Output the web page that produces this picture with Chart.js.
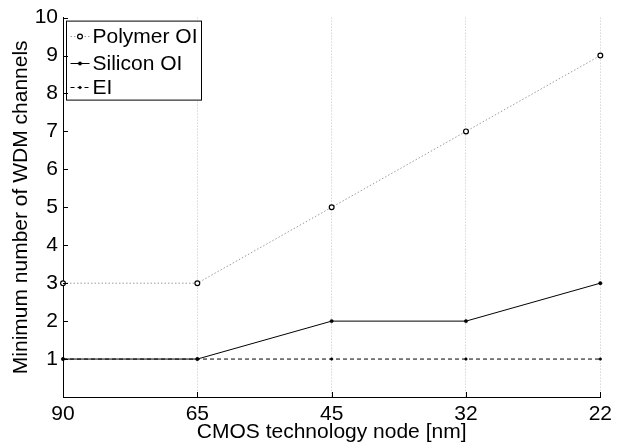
<!DOCTYPE html>
<html>
<head>
<meta charset="utf-8">
<script src="https://cdn.jsdelivr.net/npm/chart.js@4/dist/chart.umd.min.js"></script>
<style>
  html, body { margin: 0; padding: 0; background: #fff; }
  canvas { display: block; }
</style>
</head>
<body>
<canvas id="chart" width="617" height="447"></canvas>
<script>
// CMOS technology nodes (nm) on the x axis
const nodeLabels = ['90', '65', '45', '32', '22'];
// Minimum number of WDM channels per interconnect type
const polymerOI = [3, 3, 5, 7, 9];
const siliconOI = [1, 1, 2, 2, 3];
const electricalEI = [1, 1, 1, 1, 1];
// y axis range and tick spacing
const yMin = 0;
const yMax = 10;
const yStep = 1;

const FONT = "'Liberation Sans', Arial, Helvetica, sans-serif";

// Short tick marks pointing into the plot area
const insideTicks = {
  id: 'insideTicks',
  afterDraw(chart) {
    const { ctx, chartArea: a, scales: { x, y } } = chart;
    ctx.save();
    ctx.strokeStyle = '#000';
    ctx.lineWidth = 1;
    ctx.beginPath();
    y.ticks.forEach(t => {
      const py = Math.round(y.getPixelForValue(t.value)) + 0.5;
      ctx.moveTo(a.left, py);
      ctx.lineTo(a.left + 5, py);
    });
    x.ticks.forEach((t, i) => {
      const px = Math.round(x.getPixelForTick(i)) + 0.5;
      ctx.moveTo(px, a.bottom);
      ctx.lineTo(px, a.bottom - 5);
    });
    ctx.stroke();
    ctx.restore();
  }
};

// Boxed legend in the upper-left corner of the plot
const boxedLegend = {
  id: 'boxedLegend',
  afterDatasetsDraw(chart) {
    const { ctx, chartArea: a } = chart;
    const bx = a.left + 3.5, by = a.top + 3.5, bw = 135, bh = 79;
    ctx.save();
    ctx.fillStyle = '#fff';
    ctx.fillRect(bx, by, bw, bh);
    ctx.strokeStyle = '#000';
    ctx.lineWidth = 1;
    ctx.strokeRect(bx, by, bw, bh);
    const rows = [by + 14.5, by + 42, by + 66];
    chart.data.datasets.forEach((ds, i) => {
      const ry = Math.round(rows[i]) + 0.5;
      const x0 = bx + 4, x1 = bx + 23, mx = (x0 + x1) / 2;
      ctx.save();
      ctx.strokeStyle = ds.borderColor;
      ctx.lineWidth = ds.borderWidth;
      ctx.setLineDash(ds.borderDash || []);
      ctx.beginPath();
      ctx.moveTo(x0, ry);
      ctx.lineTo(x1, ry);
      ctx.stroke();
      ctx.restore();
      ctx.save();
      ctx.beginPath();
      ctx.arc(mx, ry, ds.pointRadius, 0, Math.PI * 2);
      ctx.fillStyle = ds.pointBackgroundColor;
      ctx.fill();
      ctx.lineWidth = ds.pointBorderWidth;
      ctx.strokeStyle = ds.pointBorderColor;
      ctx.stroke();
      ctx.restore();
      ctx.fillStyle = '#000';
      ctx.font = '21px ' + FONT;
      ctx.textBaseline = 'middle';
      ctx.textAlign = 'left';
      ctx.fillText(ds.label, bx + 26, ry + 1);
    });
    ctx.restore();
  }
};

new Chart(document.getElementById('chart'), {
  type: 'line',
  data: {
    labels: nodeLabels,
    datasets: [
      {
        label: 'Polymer OI',
        data: polymerOI,
        borderColor: '#9a9a9a',
        borderWidth: 1,
        borderDash: [1.5, 2],
        pointRadius: 2.4,
        pointBorderWidth: 1.2,
        pointBorderColor: '#000',
        pointBackgroundColor: '#fff',
        tension: 0
      },
      {
        label: 'Silicon OI',
        data: siliconOI,
        borderColor: '#000',
        borderWidth: 1,
        borderDash: [],
        pointRadius: 1.7,
        pointBorderWidth: 0.5,
        pointBorderColor: '#000',
        pointBackgroundColor: '#000',
        tension: 0
      },
      {
        label: 'EI',
        data: electricalEI,
        borderColor: '#000',
        borderWidth: 1,
        borderDash: [4, 3],
        pointRadius: 1.3,
        pointBorderWidth: 0.5,
        pointBorderColor: '#000',
        pointBackgroundColor: '#000',
        tension: 0
      }
    ]
  },
  options: {
    responsive: false,
    animation: false,
    events: [],
    layout: { padding: { top: 14, right: 12, left: 0, bottom: 0 } },
    plugins: { legend: { display: false }, tooltip: { enabled: false } },
    scales: {
      x: {
        type: 'category',
        offset: false,
        grid: { display: true, color: '#c4c4c4', lineWidth: 1, drawTicks: false },
        border: { display: true, color: '#000', width: 1, dash: [1, 2] },
        ticks: { color: '#000', font: { family: FONT, size: 21 }, padding: 5, maxRotation: 0, autoSkip: false },
        title: {
          display: true,
          text: 'CMOS technology node [nm]',
          color: '#000',
          font: { family: FONT, size: 21 },
          padding: { top: 0, bottom: 2 }
        },
        afterFit(scale) { scale.height = 50; }
      },
      y: {
        min: yMin,
        max: yMax,
        grid: { display: false, drawTicks: false },
        border: { display: true, color: '#000', width: 1 },
        ticks: {
          stepSize: yStep,
          color: '#000',
          font: { family: FONT, size: 21 },
          padding: 5,
          callback: v => (v === 0 ? '' : String(v))
        },
        title: {
          display: true,
          text: 'Minimum number of WDM channels',
          color: '#000',
          font: { family: FONT, size: 21 },
          padding: { top: 9, bottom: 0 }
        },
        afterFit(scale) { scale.width = 63; }
      }
    }
  },
  plugins: [insideTicks, boxedLegend]
});
</script>
</body>
</html>
